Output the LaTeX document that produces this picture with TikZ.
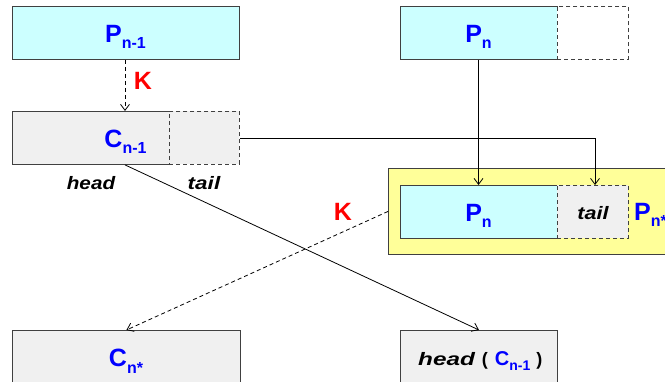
\documentclass[tikz,border=0pt]{standalone}
\usepackage{graphicx}
\usepackage{fontspec}
\setmainfont{Liberation Sans}
\usetikzlibrary{arrows.meta}
\definecolor{boxcyan}{HTML}{CCFFFF}
\definecolor{boxgray}{HTML}{F0F0F0}
\definecolor{boxyellow}{HTML}{FFFF99}
\definecolor{boxline}{HTML}{404040}
\definecolor{symblue}{HTML}{0000FF}
\definecolor{keyred}{HTML}{FF0000}
% symbol with a lowered subscript, e.g. \sym{P}{n-1}
\newcommand{\sym}[2]{{\fontsize{25}{25}\selectfont\bfseries #1\lower6pt\hbox{\fontsize{16}{16}\selectfont\bfseries #2}}}
\newcommand{\smallsym}[2]{{\fontsize{20}{20}\selectfont\bfseries #1\lower4.5pt\hbox{\fontsize{14}{14}\selectfont\bfseries #2}}}
% widened bold italic word
\newcommand{\wideword}[2]{\scalebox{#1}[1]{#2}}
\begin{document}
\begin{tikzpicture}[x=1pt,y=-1pt,
  cell/.style={inner sep=0pt, anchor=north west, minimum height=53pt, line width=0.9pt, draw=boxline},
  dashcell/.style={cell, dash pattern=on 4pt off 3pt},
  lbl/.style={anchor=base, inner sep=0pt, text=symblue},
  word/.style={anchor=base, inner sep=0pt, font=\fontsize{18}{18}\selectfont\bfseries\itshape},
  keylbl/.style={inner sep=0pt, text=keyred, font=\fontsize{25}{25}\selectfont\bfseries},
  link/.style={line width=0.8pt, -{Straight Barb[length=6pt,width=9pt]}},
  dlink/.style={link, dash pattern=on 4pt off 3pt}]
\useasboundingbox (0,0) rectangle (665,382);
\clip (0,0) rectangle (665,382);

% --- P_{n-1} and its child C_{n-1}
\node[cell, fill=boxcyan, minimum width=227pt] (pn1) at (12,6) {};
\node[lbl] (pn1t) at (125.5,43) {\sym{P}{n-1}};

\node[cell, draw=none, fill=boxgray, minimum width=157pt] (ch) at (12,111) {};
\draw[line width=0.9pt, boxline] (ch.north east) -- (ch.north west) -- (ch.south west) -- (ch.south east);
\node[dashcell, fill=boxgray, minimum width=70pt] (ct) at (169,111) {};
\node[lbl] (cht) at (125.5,148) {\sym{C}{n-1}};
\node[word] (headw) at (91,190) {\wideword{1.15}{head}};
\node[word] (tailw) at (204,190) {\wideword{1.25}{tail}};

\draw[dlink] (pn1.south -| 125,0) -- (ch.north -| 125,0);
\node[keylbl] (k1) at (143,81) {K};

% --- P_n with an empty slot
\node[cell, draw=none, fill=boxcyan, minimum width=157pt] (pn) at (400,6) {};
\draw[line width=0.9pt, boxline] (pn.north east) -- (pn.north west) -- (pn.south west) -- (pn.south east);
\node[dashcell, minimum width=71pt] (pslot) at (557,6) {};
\node[lbl] (pnt) at (478.5,43) {\sym{P}{n}};

% --- combined block P_n + tail
\node[cell, fill=boxyellow, minimum width=320pt, minimum height=86pt] (yb) at (388,168) {};
\node[cell, draw=none, fill=boxcyan, minimum width=157pt] (ipn) at (400,185) {};
\draw[line width=0.9pt, boxline] (ipn.north east) -- (ipn.north west) -- (ipn.south west) -- (ipn.south east);
\node[dashcell, fill=boxgray, minimum width=71pt] (itail) at (557,185) {};
\node[lbl] (ipnt) at (478.5,222) {\sym{P}{n}};
\node[word] (itailw) at (593,220) {\wideword{1.2}{tail}};
\node[lbl, anchor=base west] (pnst) at (634,221) {\sym{P}{n*}};

% --- bottom row
\node[cell, fill=boxgray, minimum width=228pt, minimum height=56pt] (cs) at (12,330) {};
\node[lbl] (cst) at (126,367) {\sym{C}{n*}};
\node[cell, fill=boxgray, minimum width=157pt, minimum height=56pt] (hb) at (400,330) {};
\node[anchor=base west, inner sep=0pt, font=\fontsize{18}{18}\selectfont\bfseries] (hbt) at (418,366)
  {\wideword{1.35}{\itshape head}\kern7pt(\kern7pt\textcolor{symblue}{\smallsym{C}{n-1}}\kern6pt)};

% --- connectors
\draw[link] (pn.south -| pnt.base) -- (ipn.north -| pnt.base);
\draw[link] (ct.east) -| (595,185);
\draw[link] (ch.south -| 125,0) -- (hb.north);
\draw[dlink] (yb.west) -- (cs.north);
\node[keylbl] (k2) at (343,212) {K};
\end{tikzpicture}
\end{document}
